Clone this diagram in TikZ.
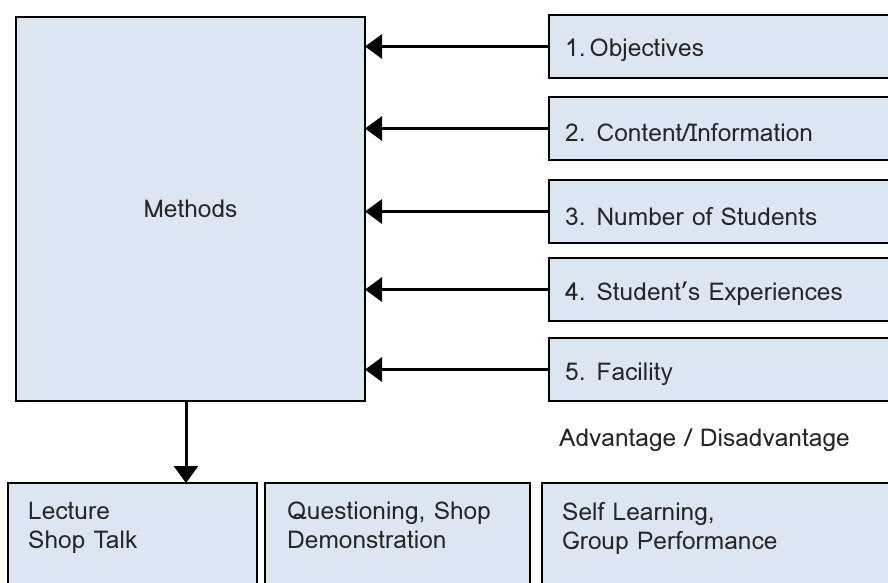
\documentclass[tikz,border=0pt]{standalone}
\usepackage{fontspec}
\setmainfont{Loma}
\usetikzlibrary{arrows.meta}
\definecolor{boxfill}{HTML}{DCE6F2}
\begin{document}
\begin{tikzpicture}[x=1pt,y=-1pt,
  box/.style={draw=black,fill=boxfill,line width=2pt,inner sep=0pt,outer sep=0pt,anchor=north west},
  lbl/.style={anchor=west,inner sep=0pt,font=\fontsize{24.5}{29}\selectfont,align=left,text=black!85},
  conn/.style={line width=3pt,-{Triangle[length=17pt,width=24pt]}}]
\clip (0,0) rectangle (888,582);
\fill[white] (0,0) rectangle (888,582);
% Methods
\node[box,minimum width=349pt,minimum height=384pt] (m) at (16,17) {};
\node[lbl,anchor=center] (mt) at (190.5,209) {Methods};
% right boxes
\node[box,minimum width=360pt,minimum height=63pt] (r1) at (549,15) {};
\node[box,minimum width=360pt,minimum height=63pt] (r2) at (549,97) {};
\node[box,minimum width=360pt,minimum height=63pt] (r3) at (549,180) {};
\node[box,minimum width=360pt,minimum height=63pt] (r4) at (549,258) {};
\node[box,minimum width=360pt,minimum height=63pt] (r5) at (549,338) {};
\node[lbl] (t1) at (565,50) {1.\,Objectives};
\node[lbl] (t2) at (565,132) {2. Content/Information};
\node[lbl] (t3) at (565,216) {3. Number of Students};
\node[lbl] (t4) at (565,294) {4. Student's Experiences};
\node[lbl] (t5) at (565,374) {5. Facility};
\foreach \i in {1,...,5}{\draw[conn] (r\i.west) -- (m.east |- r\i.west);}
% bottom boxes
\node[box,minimum width=249pt,minimum height=120pt] (b1) at (8,483) {};
\node[box,minimum width=265pt,minimum height=120pt] (b2) at (265,483) {};
\node[box,minimum width=360pt,minimum height=120pt] (b3) at (542,483) {};
\node[lbl,anchor=north west] (bt1) at (28,502) {Lecture\\Shop Talk};
\node[lbl,anchor=north west] (bt2) at (287,502) {Questioning, Shop\\Demonstration};
\node[lbl,anchor=north west] (bt3) at (562,502) {Self Learning,\\Group Performance};
\node[lbl] (adv) at (559,440) {Advantage / Disadvantage};
\coordinate (cs) at (186,401);
\draw[conn] (cs) -- (cs |- b1.north);
\end{tikzpicture}
\end{document}
